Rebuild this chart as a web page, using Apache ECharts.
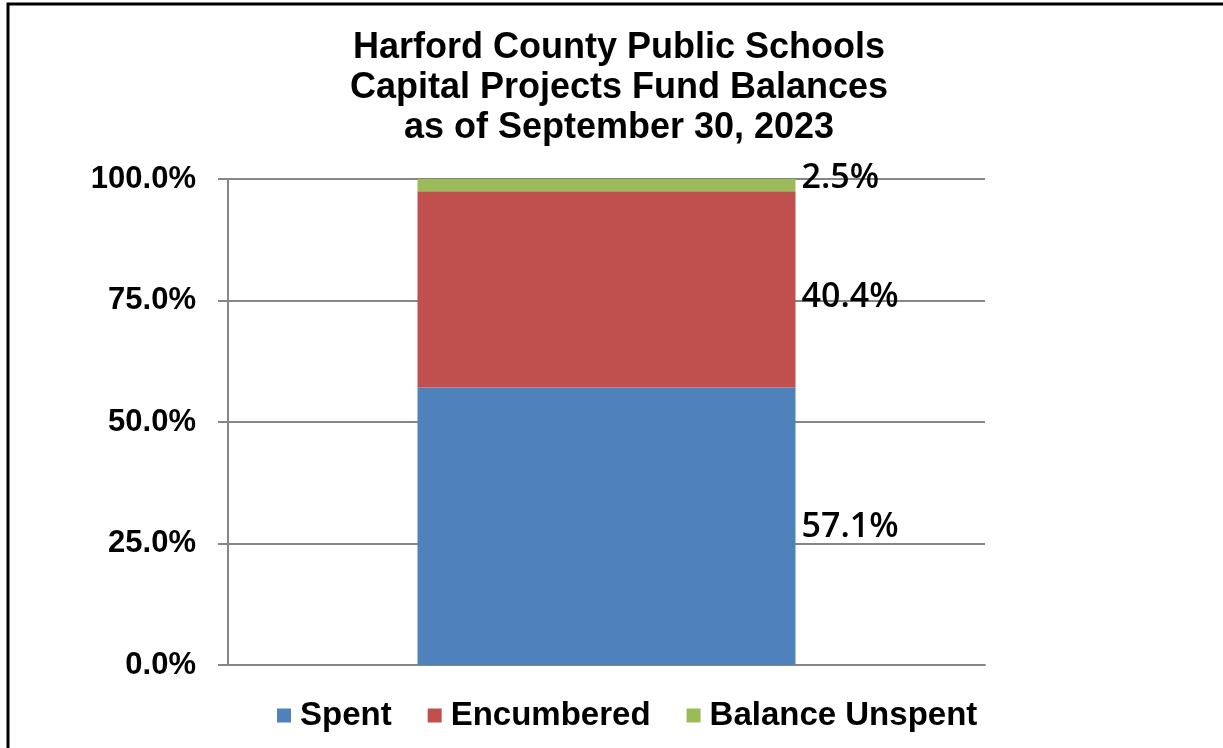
<!DOCTYPE html>
<html>
<head>
<meta charset="utf-8">
<script src="https://cdn.jsdelivr.net/npm/echarts@6/dist/echarts.min.js"></script>
<style>
html,body{margin:0;padding:0;background:#fff;}
#c{width:1223px;height:748px;}
</style>
</head>
<body>
<div id="c"></div>
<script>
const titleLines = ['Harford County Public Schools', 'Capital Projects Fund Balances', 'as of September 30, 2023'];
const categories = ['Capital Projects'];
const seriesNames = ['Spent', 'Encumbered', 'Balance Unspent'];
const spent = [57.1];
const encumbered = [40.4];
const unspent = [2.5];
const yTicks = [0, 25, 50, 75, 100];
const colors = ['#4F81BD', '#C0504D', '#9BBB59'];
const labelOffsets = [[0, 1], [0, 8], [0, -7]];

const chart = echarts.init(document.getElementById('c'), null, {renderer: 'canvas'});
const valueSets = [spent, encumbered, unspent];
const labelFont = {fontFamily: 'Open Sans', fontWeight: 600, fontSize: 34, color: '#000'};

const series = seriesNames.map((name, i) => ({
  name: name,
  type: 'bar',
  stack: 'total',
  barWidth: 378,
  itemStyle: {color: colors[i]},
  data: valueSets[i].map(v => ({value: v})),
  label: Object.assign({
    show: true,
    position: 'right',
    distance: 6,
    offset: labelOffsets[i],
    formatter: p => p.value.toFixed(1) + '%'
  }, labelFont)
}));

chart.setOption({
  backgroundColor: '#fff',
  animation: false,
  title: {
    text: titleLines.join('\n'),
    left: 614,
    textAlign: 'center',
    top: 23,
    textStyle: {fontFamily: 'Liberation Sans', fontWeight: 'bold', fontSize: 36, lineHeight: 40, color: '#000'}
  },
  legend: {
    data: seriesNames,
    left: 272,
    top: 694,
    itemWidth: 14,
    itemHeight: 14,
    itemGap: 36,
    icon: 'rect',
    textStyle: {fontFamily: 'Liberation Sans', fontWeight: 'bold', fontSize: 33, color: '#000', padding: [0, 0, 0, 4]}
  },
  grid: {left: 228, right: 238, top: 179, bottom: 83, containLabel: false},
  xAxis: {
    type: 'category',
    data: categories,
    axisLine: {show: true, lineStyle: {color: '#868686', width: 2}},
    axisTick: {show: false},
    axisLabel: {show: false}
  },
  yAxis: {
    type: 'value',
    min: yTicks[0],
    max: yTicks[yTicks.length - 1],
    interval: 25,
    axisLine: {show: true, lineStyle: {color: '#868686', width: 2}},
    axisTick: {show: true, length: 10, lineStyle: {color: '#868686', width: 2}},
    splitLine: {show: true, lineStyle: {color: '#868686', width: 2}},
    axisLabel: {
      margin: 32,
      formatter: v => v.toFixed(1) + '%',
      fontFamily: 'Liberation Sans', fontWeight: 'bold', fontSize: 31, color: '#000'
    }
  },
  graphic: [
    {type: 'rect', shape: {x: 8, y: 4, width: 1300, height: 900}, style: {fill: null, stroke: '#000', lineWidth: 3}, silent: true}
  ],
  series: series
});
</script>
</body>
</html>
